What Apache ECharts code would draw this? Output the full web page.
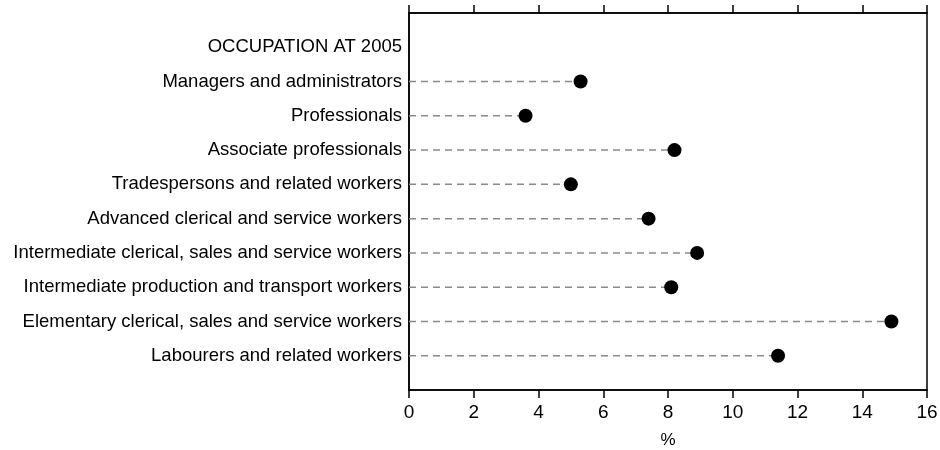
<!DOCTYPE html>
<html><head><meta charset="utf-8">
<script src="https://cdn.jsdelivr.net/npm/echarts@6/dist/echarts.min.js"></script>
<style>html,body{margin:0;padding:0;background:#fff}#c{width:940px;height:450px}</style>
</head><body><div id="c"></div>
<script>
const header = 'OCCUPATION AT 2005';
const categories = [
  'Managers and administrators',
  'Professionals',
  'Associate professionals',
  'Tradespersons and related workers',
  'Advanced clerical and service workers',
  'Intermediate clerical, sales and service workers',
  'Intermediate production and transport workers',
  'Elementary clerical, sales and service workers',
  'Labourers and related workers'
];
const values = [5.3, 3.6, 8.2, 5.0, 7.4, 8.9, 8.1, 14.9, 11.4];
const xTicks = [0, 2, 4, 6, 8, 10, 12, 14, 16];
const xName = '%';

const yCats = [' ', header].concat(categories, ['  ']);
const pts = categories.map((c, i) => [values[i], c]);
const FONT = 'Liberation Sans';

const chart = echarts.init(document.getElementById('c'), null, {renderer: 'canvas'});
chart.setOption({
  animation: false,
  textStyle: {fontFamily: FONT},
  grid: {left: 409, right: 13, top: 13, bottom: 60, containLabel: false, outerBoundsMode: 'none',
    show: true, borderColor: '#000', borderWidth: 1.5, backgroundColor: 'transparent'},
  xAxis: [{
    type: 'value', min: xTicks[0], max: xTicks[xTicks.length - 1], interval: 2, position: 'bottom',
    name: xName, nameLocation: 'middle', nameGap: 42,
    nameTextStyle: {color: '#000', fontSize: 17, fontFamily: FONT},
    axisLine: {show: true, lineStyle: {color: '#000', width: 1.5}},
    axisTick: {show: true, length: 8, lineStyle: {color: '#000', width: 1.5}},
    axisLabel: {color: '#000', fontSize: 19, margin: 13, fontFamily: FONT},
    splitLine: {show: false}
  }, {
    type: 'value', min: xTicks[0], max: xTicks[xTicks.length - 1], interval: 2, position: 'top',
    axisLine: {show: true, lineStyle: {color: '#000', width: 1.5}},
    axisTick: {show: true, length: 8, lineStyle: {color: '#000', width: 1.5}},
    axisLabel: {show: false},
    splitLine: {show: false}
  }],
  yAxis: {
    type: 'category', data: yCats, inverse: true, boundaryGap: false,
    axisLine: {show: true, lineStyle: {color: '#000', width: 1.5}},
    axisTick: {show: false},
    axisLabel: {color: '#000', fontSize: 18.5, margin: 7, fontFamily: FONT, interval: 0},
    splitLine: {show: false}
  },
  series: [{
    type: 'custom',
    renderItem: function (params, api) {
      const a = api.coord([0, api.value(1)]);
      const b = api.coord([api.value(0), api.value(1)]);
      return {type: 'line', shape: {x1: a[0], y1: a[1], x2: b[0], y2: b[1]},
        style: {stroke: '#8a8a8a', lineWidth: 1.5, lineDash: [7, 5]}};
    },
    encode: {x: 0, y: 1},
    data: pts, z: 1
  }, {
    type: 'scatter', data: pts, symbol: 'circle', symbolSize: 14,
    itemStyle: {color: '#000', opacity: 1}, z: 3
  }]
});
</script></body></html>
